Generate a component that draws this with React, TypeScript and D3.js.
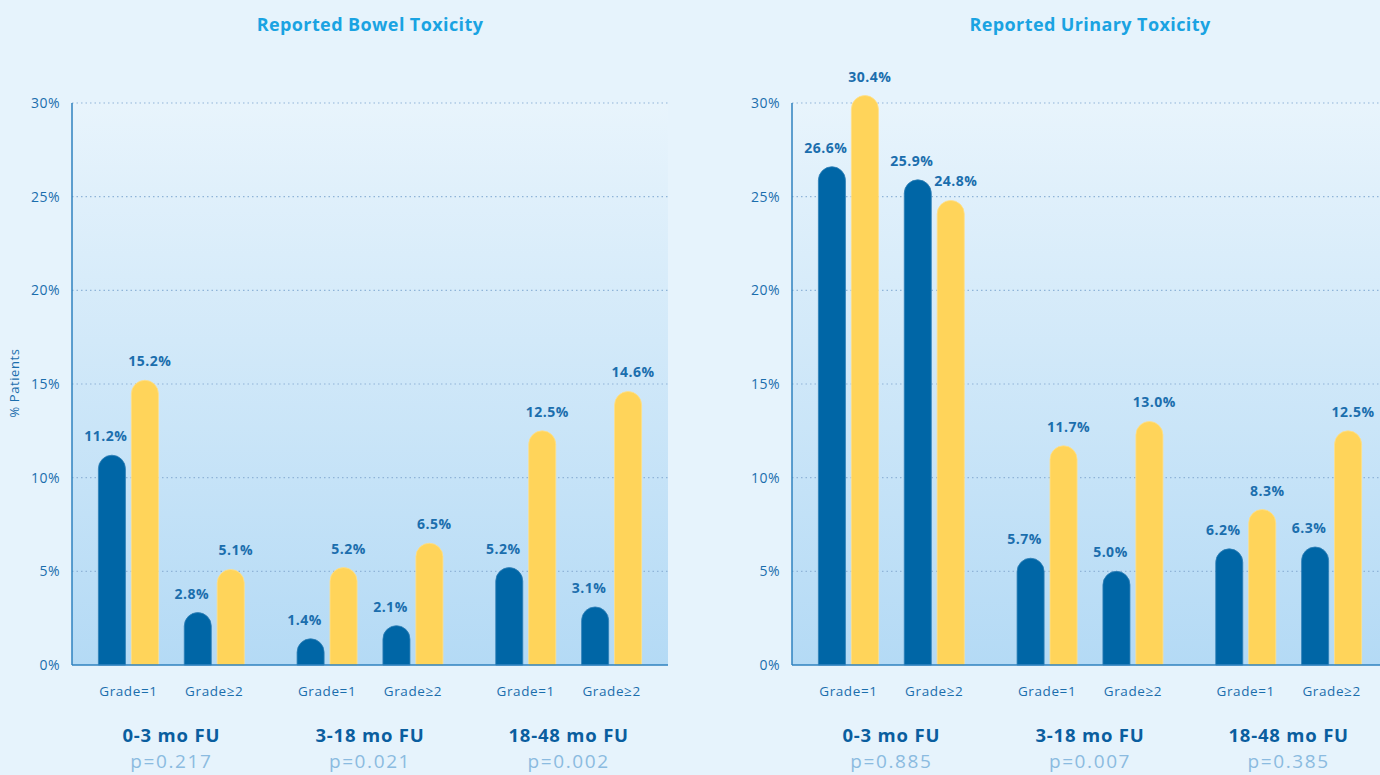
import React, { useEffect, useRef } from 'react';
import * as d3 from 'd3';

const periods = ['0-3 mo FU', '3-18 mo FU', '18-48 mo FU'];
const grades = ['Grade=1', 'Grade≥2'];
const series = ['dark', 'yellow'];
const yTicks = [0, 5, 10, 15, 20, 25, 30];

// values per period: [Grade=1 dark, Grade=1 yellow, Grade≥2 dark, Grade≥2 yellow]
const bowelValues = [
  [11.2, 15.2, 2.8, 5.1],
  [1.4, 5.2, 2.1, 6.5],
  [5.2, 12.5, 3.1, 14.6],
];
const urinaryValues = [
  [26.6, 30.4, 25.9, 24.8],
  [5.7, 11.7, 5.0, 13.0],
  [6.2, 8.3, 6.3, 12.5],
];
const bowelP = ['p=0.217', 'p=0.021', 'p=0.002'];
const urinaryP = ['p=0.885', 'p=0.007', 'p=0.385'];

const FONT = "'Open Sans', 'Noto Sans', sans-serif";

export default function App() {
  const svgRef = useRef<SVGSVGElement>(null);

  useEffect(() => {
    document.body.style.margin = '0';
    if (!svgRef.current) return;
    const root = d3.select(svgRef.current);
    root.selectAll('*').remove();

    const W = 1380, H = 775;
    root.attr('width', W).attr('height', H);
    root.append('rect').attr('width', W).attr('height', H).attr('fill', '#e6f3fc');

    const defs = root.append('defs');
    const grad = defs.append('linearGradient')
      .attr('id', 'plotBg').attr('x1', 0).attr('y1', 0).attr('x2', 0).attr('y2', 1);
    grad.append('stop').attr('offset', '0%').attr('stop-color', '#e8f4fc');
    grad.append('stop').attr('offset', '100%').attr('stop-color', '#b4daf5');

    const plotW = 596;
    const top = 103, bottom = 665;

    const y = d3.scaleLinear().domain([0, 30]).range([bottom, top]);
    const x0 = d3.scaleBand().domain(periods).range([0, plotW]);
    const x1 = d3.scalePoint().domain(grades).range([0, x0.bandwidth()]).padding(0.657);
    const x2 = d3.scaleBand().domain(series).range([-30, 30]).paddingInner(0.18);
    const color = d3.scaleOrdinal<string>().domain(series).range(['#0066a6', '#ffd45a']);
    // labels of a pair are pushed apart a little so they don't collide
    const labelShift: Record<string, number> = { dark: -6, yellow: 5 };

    const drawChart = (left: number, title: string, values: number[][], pvals: string[]) => {
      const g = root.append('g').attr('transform', `translate(${left},0)`);

      g.append('text')
        .attr('x', plotW / 2).attr('y', 31)
        .attr('text-anchor', 'middle')
        .style('font-family', FONT).style('font-size', '18px').style('font-weight', 700)
        .style('letter-spacing', '0.4px')
        .attr('fill', '#1aa3e2')
        .text(title);

      g.append('rect')
        .attr('x', 0).attr('y', top).attr('width', plotW).attr('height', bottom - top)
        .attr('fill', 'url(#plotBg)');

      // grid
      g.selectAll('.grid')
        .data(yTicks.filter((t) => t > 0))
        .enter()
        .append('line')
        .attr('x1', 0).attr('x2', plotW)
        .attr('y1', (d) => y(d)).attr('y2', (d) => y(d))
        .attr('stroke', '#8fb4d8').attr('stroke-width', 1.2)
        .attr('stroke-dasharray', '1.5,3');

      // y tick labels
      g.selectAll('.ytick')
        .data(yTicks)
        .enter()
        .append('text')
        .attr('x', -12).attr('y', (d) => y(d) + 5)
        .attr('text-anchor', 'end')
        .style('font-family', FONT).style('font-size', '14px')
        .style('letter-spacing', '0.5px')
        .attr('fill', '#1b6ead')
        .text((d) => d + '%');

      // bars
      periods.forEach((p, pi) => {
        const vals = values[pi];
        grades.forEach((gr, gi) => {
          series.forEach((s, si) => {
            const v = vals[gi * 2 + si];
            const cx = x0(p)! + x1(gr)! + x2(s)!;
            const bw = x2.bandwidth();
            const r = bw / 2;
            const yt = y(v);
            const path = d3.path();
            path.moveTo(cx, bottom);
            path.lineTo(cx, yt + r);
            path.arc(cx + r, yt + r, r, Math.PI, 0);
            path.lineTo(cx + bw, bottom);
            path.closePath();
            g.append('path')
              .attr('d', path.toString())
              .attr('fill', color(s))
              .attr('stroke', s === 'dark' ? '#2f7fb6' : '#ffe08a')
              .attr('stroke-width', 0.8);
            g.append('text')
              .attr('x', cx + r + labelShift[s]).attr('y', yt - 14)
              .attr('text-anchor', 'middle')
              .style('font-family', FONT).style('font-size', '14px').style('font-weight', 700)
              .style('letter-spacing', '0.5px')
              .attr('fill', '#1b6ead')
              .text(v.toFixed(1) + '%');
          });
          g.append('text')
            .attr('x', x0(p)! + x1(gr)!).attr('y', 696)
            .attr('text-anchor', 'middle')
            .style('font-family', FONT).style('font-size', '13.5px')
            .style('letter-spacing', '0.6px')
            .attr('fill', '#1b6ead')
            .text(gr);
        });
        const gc = x0(p)! + x0.bandwidth() / 2;
        g.append('text')
          .attr('x', gc).attr('y', 742)
          .attr('text-anchor', 'middle')
          .style('font-family', FONT).style('font-size', '18.5px').style('font-weight', 700)
          .style('letter-spacing', '0.8px')
          .attr('fill', '#0a5e9f')
          .text(p);
        g.append('text')
          .attr('x', gc).attr('y', 768)
          .attr('text-anchor', 'middle')
          .style('font-family', FONT).style('font-size', '19px')
          .style('letter-spacing', '1.6px')
          .attr('fill', '#8bbbe0')
          .text(pvals[pi]);
      });

      // axes lines
      g.append('line')
        .attr('x1', 0).attr('x2', 0).attr('y1', top).attr('y2', bottom)
        .attr('stroke', '#2f82bf').attr('stroke-width', 1.5);
      g.append('line')
        .attr('x1', 0).attr('x2', plotW).attr('y1', bottom).attr('y2', bottom)
        .attr('stroke', '#2f82bf').attr('stroke-width', 1.5);
    };

    drawChart(72, 'Reported Bowel Toxicity', bowelValues, bowelP);
    drawChart(792, 'Reported Urinary Toxicity', urinaryValues, urinaryP);

    root.append('text')
      .attr('transform', `translate(19,${383}) rotate(-90)`)
      .attr('text-anchor', 'middle')
      .style('font-family', FONT).style('font-size', '13px')
      .style('letter-spacing', '0.6px')
      .attr('fill', '#1b6ead')
      .text('% Patients');
  }, []);

  return <svg ref={svgRef} style={{ display: 'block' }} />;
}
